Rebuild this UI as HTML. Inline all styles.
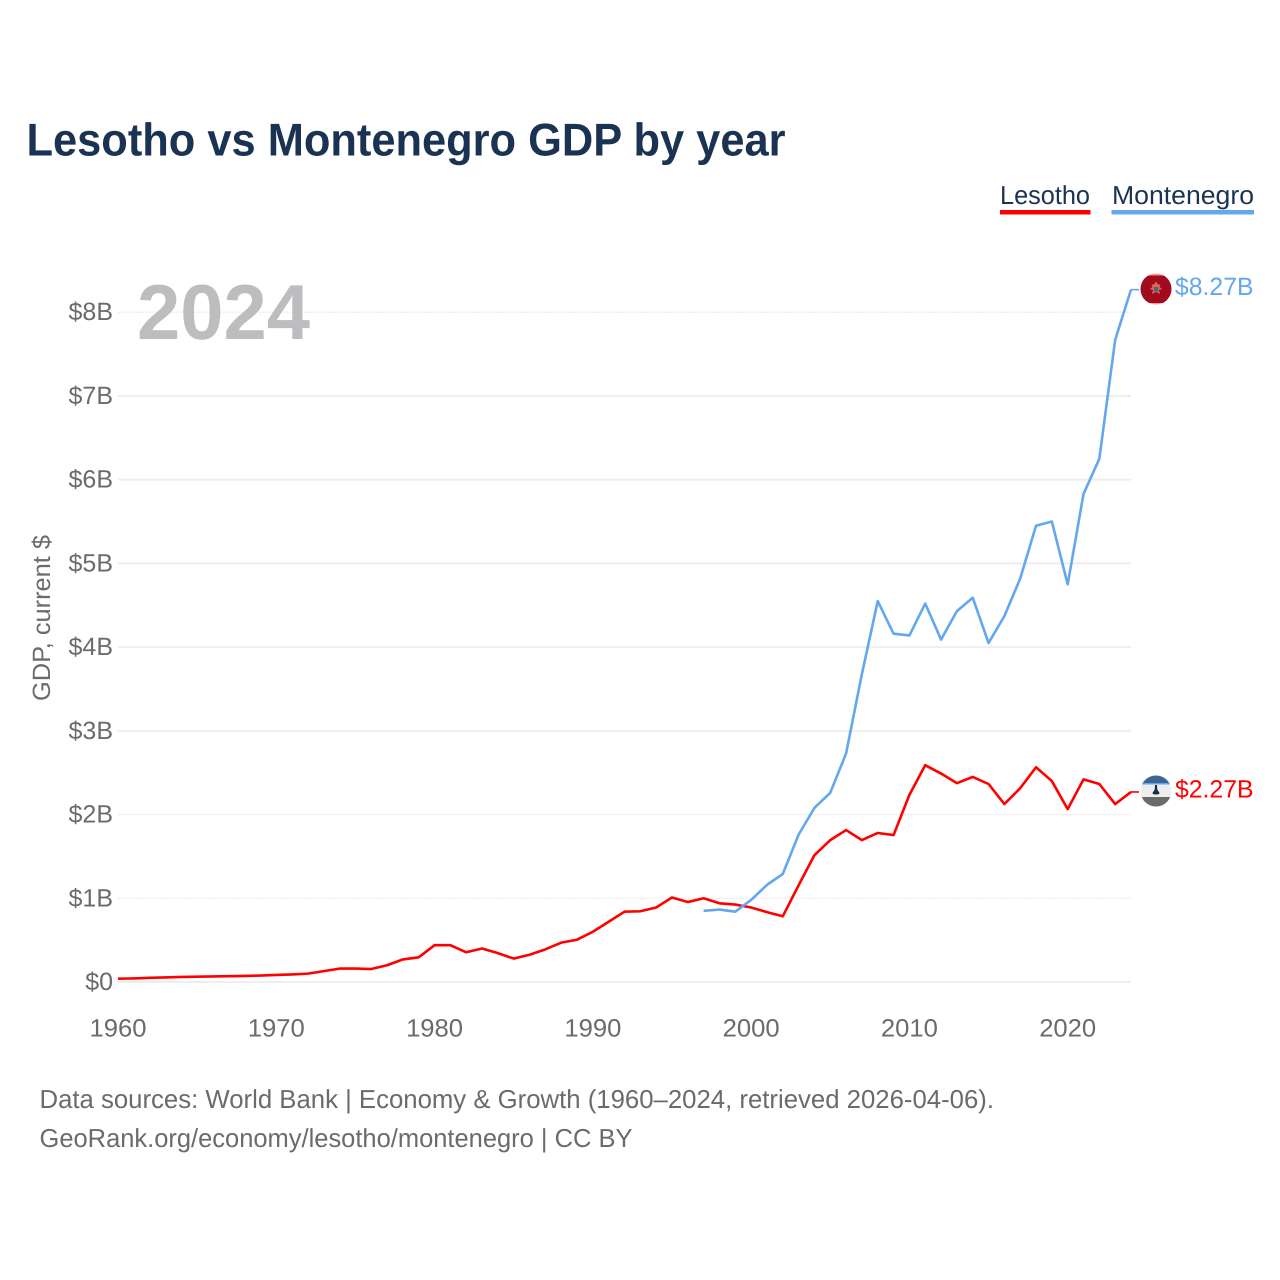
<!DOCTYPE html>
<html lang="en">
<head>
<meta charset="utf-8">
<title>Lesotho vs Montenegro GDP by year</title>
<style>
html,body{margin:0;padding:0;background:#fff;}
svg{display:block;font-family:"Liberation Sans",Arial,sans-serif;text-rendering:geometricPrecision;}
</style>
</head>
<body>
<svg id="chart" xmlns="http://www.w3.org/2000/svg" width="1280" height="1280" viewBox="0 0 1280 1280">
  <defs>
    <clipPath id="flag-me"><circle cx="1156" cy="289" r="15.5"/></clipPath>
    <clipPath id="flag-ls"><circle cx="1156" cy="791" r="15.5"/></clipPath>
  </defs>
  <rect width="1280" height="1280" fill="#fff"/>
  <text x="26.500" y="155.500" font-size="46" font-weight="700" fill="#1a3353" textLength="759" lengthAdjust="spacingAndGlyphs">Lesotho vs Montenegro GDP by year</text>

  <g>
    <g>
      <text x="1000" y="204" font-size="26" fill="#1a3353" textLength="90" lengthAdjust="spacingAndGlyphs">Lesotho</text>
      <rect x="1000" y="210" width="90.500" height="4.500" fill="#ff0000"/>
    </g>
    <g>
      <text x="1112" y="204" font-size="26" fill="#1a3353" textLength="142" lengthAdjust="spacingAndGlyphs">Montenegro</text>
      <rect x="1111.500" y="210" width="142.500" height="4.500" fill="#63a7ee"/>
    </g>
  </g>

  <g id="grid"></g>
  <text x="137" y="339" font-size="78" font-weight="700" fill="#bcbdbf" textLength="173" lengthAdjust="spacingAndGlyphs">2024</text>
  <g id="y-ticks"></g>
  <g id="x-ticks"></g>

  <text transform="translate(50,618) rotate(-90)" text-anchor="middle" font-size="25" fill="#6b6b6b" textLength="166" lengthAdjust="spacingAndGlyphs">GDP, current $</text>

  <g id="series"></g>

  <g>
    <g clip-path="url(#flag-me)">
      <rect x="1140" y="273" width="32" height="32" fill="#ff9a8a"/>
      <rect x="1140" y="275.500" width="32" height="27.500" fill="#a00b20"/>
      <path d="M1156 281.500l2 3h2.500l-1 2.500 2.500 2-3 1 1 4-4-2-4 2 1-4-3-1 2.500-2-1-2.500h2.500z" fill="#e2694f"/>
      <rect x="1154" y="287" width="4.500" height="4.500" fill="#3c6d8c"/>
    </g>
  </g>
  <g>
    <g clip-path="url(#flag-ls)">
      <rect x="1140" y="775" width="32" height="9" fill="#3d6594"/>
      <rect x="1140" y="783" width="32" height="1.500" fill="#63a7ee"/>
      <rect x="1140" y="784.500" width="32" height="13" fill="#eeeeee"/>
      <rect x="1140" y="797" width="32" height="11" fill="#6b6b6b"/>
      <path d="M1155 785h2l.3 4.500 2.200 3.500q.2 1.500-3.500 1.500t-3.500-1.500l2.200-3.500z" fill="#14304f"/>
    </g>
  </g>

  <g>
    <text x="39.500" y="1108" font-size="26" fill="#6b6b6b" textLength="954.500" lengthAdjust="spacingAndGlyphs">Data sources: World Bank | Economy &amp; Growth (1960–2024, retrieved 2026-04-06).</text>
    <text x="39.500" y="1147" font-size="26" fill="#6b6b6b" textLength="593" lengthAdjust="spacingAndGlyphs">GeoRank.org/economy/lesotho/montenegro | CC BY</text>
  </g>
</svg>
<script>
const yTickValues = [0, 1, 2, 3, 4, 5, 6, 7, 8];
const yTickLabels = ["$0", "$1B", "$2B", "$3B", "$4B", "$5B", "$6B", "$7B", "$8B"];
const xTickYears = [1960, 1970, 1980, 1990, 2000, 2010, 2020];
const xTickLabels = ["1960", "1970", "1980", "1990", "2000", "2010", "2020"];
const lesothoStartYear = 1960;
const lesothoValues = [0.04, 0.043, 0.05, 0.055, 0.06, 0.063, 0.066, 0.07, 0.073, 0.077, 0.084, 0.09, 0.1, 0.13, 0.16, 0.16, 0.155, 0.2, 0.27, 0.295, 0.44, 0.44, 0.355, 0.4, 0.345, 0.28, 0.325, 0.39, 0.47, 0.505, 0.6, 0.72, 0.84, 0.845, 0.89, 1.01, 0.955, 1.0, 0.94, 0.925, 0.89, 0.835, 0.785, 1.155, 1.515, 1.695, 1.815, 1.695, 1.78, 1.755, 2.235, 2.59, 2.49, 2.375, 2.45, 2.365, 2.125, 2.315, 2.565, 2.4, 2.065, 2.42, 2.365, 2.125, 2.27];
const montenegroStartYear = 1997;
const montenegroValues = [0.85, 0.865, 0.84, 0.98, 1.16, 1.29, 1.76, 2.08, 2.26, 2.73, 3.68, 4.55, 4.16, 4.14, 4.52, 4.09, 4.43, 4.59, 4.05, 4.37, 4.82, 5.45, 5.5, 4.75, 5.83, 6.25, 7.67, 8.27];
const lesothoEndLabel = "$2.27B";
const montenegroEndLabel = "$8.27B";

const NS = "http://www.w3.org/2000/svg";
const xScale = function (year) { return 118 + (year - 1960) * (1131 - 118) / 64; };
const yScale = function (value) { return 982 - value * 83.72; };

function svgEl(tag, parent) {
  const el = document.createElementNS(NS, tag);
  parent.appendChild(el);
  return el;
}

const gridG = document.getElementById("grid");
const yG = document.getElementById("y-ticks");
yTickValues.forEach(function (v, i) {
  const faint = (v === 1 || v === 2 || v === 8);
  const line = svgEl("line", gridG);
  
  
  line.setAttribute("x1", 118);
  line.setAttribute("x2", 1131);
  line.setAttribute("y1", yScale(v));
  line.setAttribute("y2", yScale(v));
  line.setAttribute("stroke", "#eeeeee");
  line.setAttribute("stroke-width", faint ? 1.4 : 2);
  if (faint) { line.setAttribute("stroke-dasharray", "2 1"); }
  const t = svgEl("text", yG);
  
  
  t.setAttribute("x", 113);
  t.setAttribute("y", yScale(v) + 8);
  t.setAttribute("text-anchor", "end");
  t.setAttribute("font-size", 25);
  t.setAttribute("fill", "#6b6b6b");
  t.textContent = yTickLabels[i];
});

const xG = document.getElementById("x-ticks");
xTickYears.forEach(function (yr, i) {
  const t = svgEl("text", xG);
  
  
  t.setAttribute("x", xScale(yr));
  t.setAttribute("y", 1036.500);
  t.setAttribute("text-anchor", "middle");
  t.setAttribute("font-size", 25);
  t.setAttribute("fill", "#6b6b6b");
  t.setAttribute("textLength", 57);
  t.setAttribute("lengthAdjust", "spacingAndGlyphs");
  t.textContent = xTickLabels[i];
});

function drawSeries(startYear, values, color, name, endLabel) {
  const g = document.getElementById("series");
  const pts = values.map(function (v, i) {
    return xScale(startYear + i).toFixed(2) + "," + yScale(v).toFixed(2);
  });
  const lastYear = startYear + values.length - 1;
  const lastV = values[values.length - 1];
  const line = svgEl("polyline", g);
  
  
  line.setAttribute("points", pts.join(" "));
  line.setAttribute("fill", "none");
  line.setAttribute("stroke", color);
  line.setAttribute("stroke-width", 2.6);
  line.setAttribute("stroke-linejoin", "round");
  const conn = svgEl("line", g);
  
  
  conn.setAttribute("x1", xScale(lastYear));
  conn.setAttribute("x2", xScale(lastYear) + 8);
  conn.setAttribute("y1", yScale(lastV));
  conn.setAttribute("y2", yScale(lastV));
  conn.setAttribute("stroke", color);
  conn.setAttribute("stroke-width", 1.6);
  const lab = svgEl("text", g);
  
  
  lab.setAttribute("x", 1175);
  lab.setAttribute("y", yScale(lastV) + 5.500);
  lab.setAttribute("font-size", 25);
  lab.setAttribute("fill", color);
  lab.setAttribute("textLength", 78.500);
  lab.setAttribute("lengthAdjust", "spacingAndGlyphs");
  lab.textContent = endLabel;
}
drawSeries(lesothoStartYear, lesothoValues, "#ff0000", "lesotho", lesothoEndLabel);
drawSeries(montenegroStartYear, montenegroValues, "#63a7ee", "montenegro", montenegroEndLabel);
</script>
</body>
</html>
